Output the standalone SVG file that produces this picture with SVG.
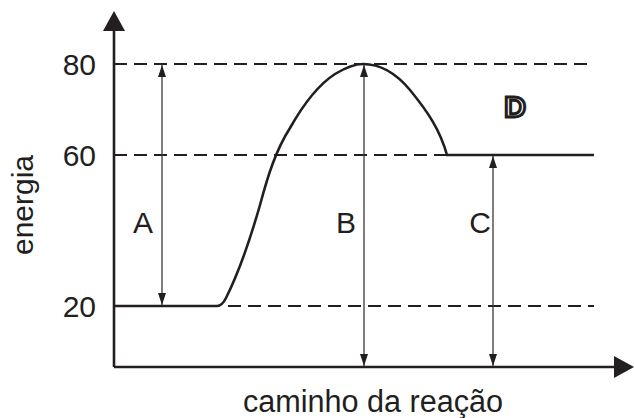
<svg xmlns="http://www.w3.org/2000/svg" width="634" height="418" viewBox="0 0 634 418">
<style>
text{font-family:"Liberation Sans",Arial,sans-serif;fill:#231f20}
.lbl{font-size:30px}
.dash{stroke:#231f20;stroke-width:2;stroke-dasharray:13 7;fill:none}
.axis{stroke:#231f20;stroke-width:2.6;fill:none}
.dim{stroke:#3a3a3a;stroke-width:1.3;fill:none;marker-start:url(#sm);marker-end:url(#sm)}
</style>
<defs>
<marker id="big" viewBox="0 0 20 22" refX="0" refY="11" markerWidth="20" markerHeight="22" markerUnits="userSpaceOnUse" orient="auto">
<path d="M0,0 L20,11 L0,22 Z" fill="#231f20"/>
</marker>
<marker id="sm" viewBox="0 0 12 8" refX="12" refY="4" markerWidth="12" markerHeight="8" markerUnits="userSpaceOnUse" orient="auto-start-reverse">
<path d="M0,0 L12,4 L0,8 Z" fill="#231f20"/>
</marker>
</defs>
<g id="axes">
<path class="axis" d="M114,367 L114,31" marker-end="url(#big)"/>
<path class="axis" d="M114,367 L614,367" marker-end="url(#big)"/>
</g>
<g id="levels">
<path class="dash" d="M114,64 L594,64"/>
<path class="dash" d="M114,155 L446,155"/>
<path class="dash" d="M228,306 L594,306"/>
</g>
<g id="curve">
<path class="axis" d="M114,306 L217,306 Q222,306 226,298 C240,270 250,240 260,205 C268,175 276,150 290,128 C303,105 318,85 335,74 C345,68 355,64 363,64 C380,64 395,72 410,90 C428,112 440,130 447,155 L594,155"/>
</g>
<g id="connectors">
<line class="dim" x1="162" y1="65" x2="162" y2="305"/>
<line class="dim" x1="364" y1="65" x2="364" y2="366"/>
<line class="dim" x1="493" y1="156" x2="493" y2="366"/>
</g>
<g id="labels">
<text class="lbl" x="96" y="75" text-anchor="end">80</text>
<text class="lbl" x="96" y="166" text-anchor="end">60</text>
<text class="lbl" x="96" y="317" text-anchor="end">20</text>
<text class="lbl" transform="translate(33,205) rotate(-90)" text-anchor="middle">energia</text>
<text class="lbl" x="373" y="412" text-anchor="middle" style="font-size:30.6px">caminho da reação</text>
<text class="lbl" x="143" y="233" text-anchor="middle">A</text>
<text class="lbl" x="346" y="233" text-anchor="middle">B</text>
<text class="lbl" x="480" y="233" text-anchor="middle">C</text>
<text x="515" y="117" text-anchor="middle" style="font-size:30px;font-weight:bold;fill:#fff;stroke:#231f20;stroke-width:3">D</text>
</g>
</svg>
